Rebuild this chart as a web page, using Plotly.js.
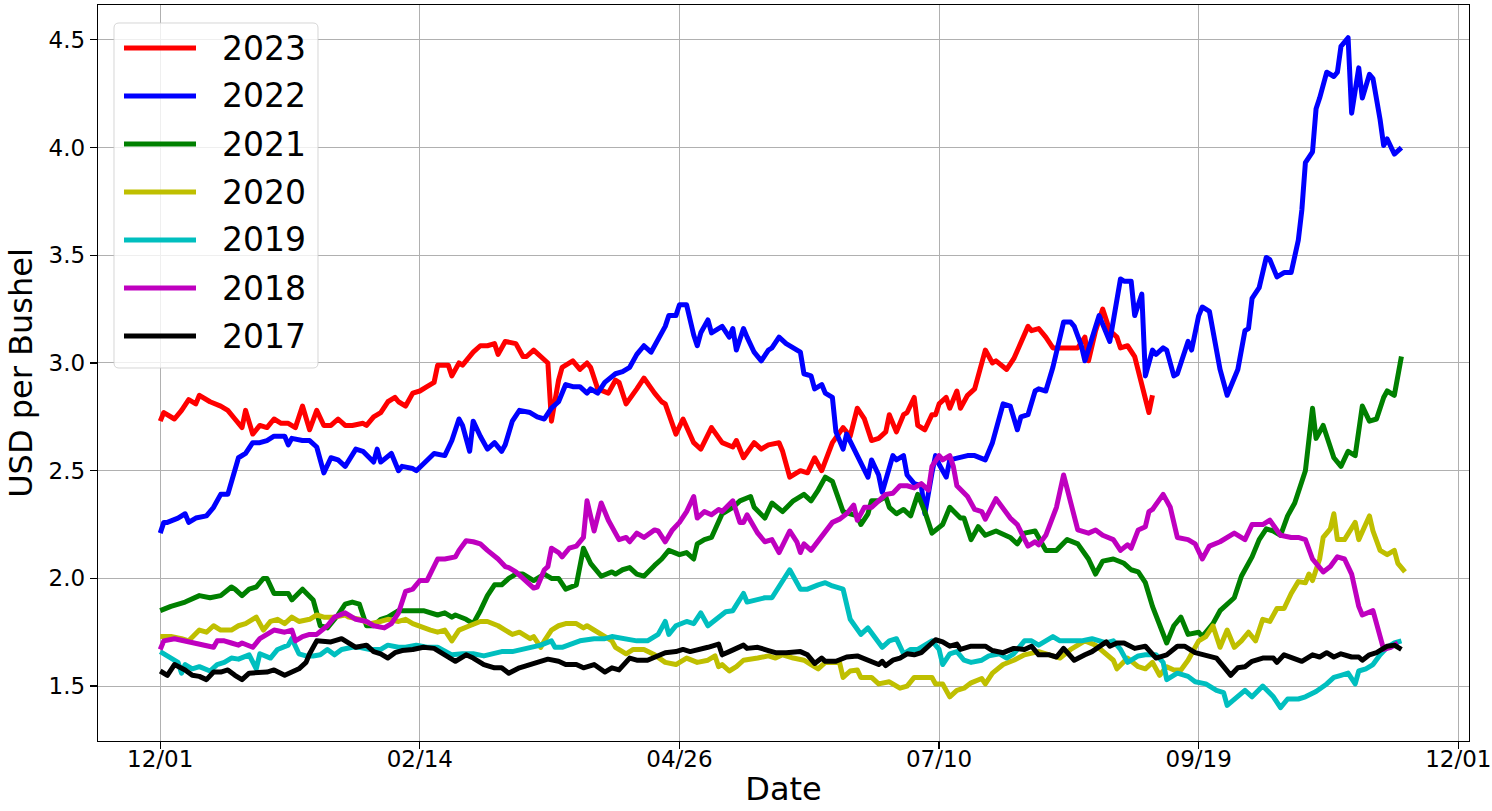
<!DOCTYPE html>
<html>
<head>
<meta charset="utf-8">
<script src="https://cdn.plot.ly/plotly-3.0.1.min.js"></script>
<style>
html,body{margin:0;padding:0;background:#fff;}
#chart{width:1492px;height:811px;}
.scatterlayer path.js-line{stroke-linejoin:round;}
</style>
</head>
<body>
<div id="chart"></div>
<script>
// ---------- data ----------
const years = ['2023','2022','2021','2020','2019','2018','2017'];
const colors = ['#ff0000','#0000ff','#008000','#bfbf00','#00bfbf','#bf00bf','#000000'];
const tickDays = [0,73,146,219,292,365];
const tickLabels = ['12/01','02/14','04/26','07/10','09/19','12/01'];
const priceTicks = [1.5,2.0,2.5,3.0,3.5,4.0,4.5];

// [day since 12/01, USD per bushel]
const y2023 = [[0,2.73],[1,2.77],[4,2.74],[6,2.78],[8,2.83],[10,2.81],[11,2.85],[14,2.82],[17,2.80],[19,2.78],
[21,2.74],[23,2.70],[24,2.78],[26,2.67],[28,2.71],[30,2.70],[32,2.74],[34,2.72],[36,2.72],[38,2.70],
[40,2.80],[42,2.69],[44,2.78],[46,2.71],[48,2.71],[50,2.74],[52,2.71],[54,2.71],[57,2.72],[58,2.71],
[60,2.75],[62,2.77],[64,2.82],[66,2.84],[67,2.82],[69,2.80],[71,2.86],[73,2.87],[75,2.89],[77,2.91],
[78,2.99],[81,2.99],[82,2.94],[84,3.00],[85,2.99],[88,3.05],[90,3.08],[92,3.08],[94,3.09],[95,3.04],
[97,3.10],[100,3.09],[102,3.03],[103,3.03],[105,3.06],[107,3.03],[109,3.00],[110,2.73],[112,2.92],[113,2.98],
[116,3.01],[118,2.97],[120,3.00],[121,2.98],[123,2.88],[126,2.86],[128,2.92],[129,2.91],[131,2.81],[134,2.88],
[136,2.93],[139,2.86],[141,2.82],[142,2.81],[145,2.67],[147,2.74],[150,2.63],[152,2.60],[155,2.70],[158,2.63],
[161,2.61],[162,2.64],[164,2.56],[167,2.63],[169,2.60],[171,2.62],[174,2.63],[175,2.59],[177,2.47],[180,2.50],
[182,2.49],[184,2.56],[186,2.50],[189,2.63],[192,2.70],[194,2.66],[196,2.79],[198,2.74],[200,2.64],[202,2.65],
[204,2.68],[205,2.76],[207,2.68],[209,2.76],[210,2.77],[212,2.84],[213,2.71],[215,2.69],[217,2.76],[218,2.76],
[219,2.81],[221,2.84],[222,2.79],[224,2.87],[225,2.79],[227,2.85],[229,2.88],[232,3.06],[234,3.00],[235,3.01],
[237,2.98],[238,2.97],[240,3.02],[242,3.09],[244,3.17],[245,3.15],[247,3.16],[249,3.12],[251,3.07],[254,3.07],
[256,3.07],[258,3.07],[260,3.12],[261,3.01],[263,3.15],[265,3.25],[267,3.15],[269,3.12],[270,3.07],[272,3.08],
[274,3.03],[276,2.91],[278,2.77],[279,2.85]];

const y2022 = [[0,2.21],[1,2.26],[2,2.26],[5,2.28],[7,2.30],[8,2.26],[10,2.28],[13,2.29],[15,2.33],[17,2.39],
[19,2.39],[21,2.50],[22,2.56],[24,2.58],[26,2.63],[28,2.63],[30,2.64],[32,2.66],[35,2.66],[36,2.62],
[37,2.65],[40,2.64],[42,2.64],[44,2.61],[46,2.49],[48,2.56],[50,2.55],[52,2.52],[55,2.60],[57,2.59],
[60,2.54],[61,2.60],[62,2.54],[65,2.58],[67,2.50],[68,2.52],[71,2.51],[72,2.50],[75,2.55],[77,2.58],
[80,2.57],[82,2.64],[84,2.74],[85,2.71],[87,2.59],[88,2.73],[90,2.66],[92,2.60],[94,2.63],[96,2.59],
[97,2.62],[99,2.73],[101,2.78],[104,2.77],[106,2.75],[108,2.74],[110,2.79],[112,2.82],[114,2.90],[116,2.89],
[118,2.89],[120,2.86],[121,2.88],[123,2.86],[125,2.91],[128,2.95],[130,2.96],[132,2.98],[134,3.04],[136,3.08],
[138,3.05],[140,3.11],[142,3.17],[143,3.22],[145,3.22],[146,3.27],[148,3.27],[150,3.13],[151,3.08],[152,3.14],
[154,3.20],[155,3.14],[157,3.16],[158,3.17],[160,3.12],[161,3.16],[162,3.06],[164,3.16],[165,3.12],[167,3.05],
[169,3.01],[171,3.06],[172,3.07],[174,3.12],[176,3.09],[178,3.07],[180,3.05],[181,2.95],[183,2.94],[184,2.88],
[186,2.90],[187,2.86],[189,2.84],[190,2.68],[192,2.60],[193,2.67],[195,2.60],[197,2.54],[199,2.47],[200,2.55],
[202,2.48],[203,2.40],[206,2.57],[207,2.55],[209,2.57],[210,2.48],[212,2.44],[214,2.43],[215,2.30],[217,2.49],
[218,2.57],[219,2.53],[221,2.47],[222,2.55],[224,2.56],[227,2.57],[229,2.57],[232,2.55],[234,2.63],[237,2.81],
[239,2.80],[241,2.69],[242,2.75],[244,2.76],[246,2.87],[247,2.88],[249,2.87],[251,2.98],[254,3.19],[256,3.19],
[257,3.17],[259,3.08],[260,3.01],[262,3.12],[264,3.22],[267,3.10],[268,3.20],[270,3.39],[271,3.38],[273,3.38],
[274,3.22],[276,3.32],[277,2.94],[279,3.06],[280,3.04],[282,3.07],[283,3.06],[285,2.94],[286,2.95],[289,3.10],
[290,3.06],[292,3.22],[293,3.26],[295,3.24],[298,2.97],[300,2.85],[303,2.97],[305,3.15],[306,3.16],[307,3.30],
[309,3.35],[311,3.49],[312,3.48],[314,3.40],[316,3.42],[318,3.42],[320,3.57],[321,3.71],[322,3.93],[324,3.98],
[325,4.18],[326,4.23],[328,4.35],[330,4.33],[331,4.35],[332,4.47],[334,4.51],[335,4.16],[337,4.37],[338,4.23],
[340,4.34],[341,4.32],[343,4.13],[344,4.01],[345,4.04],[347,3.97],[349,4.00]];

const y2021 = [[0,1.85],[3,1.87],[7,1.89],[11,1.92],[14,1.91],[17,1.92],[20,1.96],[21,1.95],[23,1.92],[25,1.95],
[27,1.96],[29,2.00],[30,2.00],[32,1.93],[34,1.93],[36,1.93],[37,1.90],[40,1.95],[43,1.90],[44,1.84],
[45,1.78],[47,1.77],[50,1.83],[52,1.88],[54,1.89],[56,1.88],[58,1.78],[60,1.78],[62,1.81],[64,1.82],
[67,1.85],[71,1.85],[74,1.85],[78,1.83],[80,1.84],[82,1.82],[83,1.83],[86,1.81],[88,1.79],[90,1.85],
[92,1.92],[94,1.97],[96,1.97],[98,2.00],[100,2.02],[102,2.02],[104,2.00],[105,1.99],[108,2.02],[110,2.00],
[112,2.00],[114,1.95],[117,1.97],[119,2.14],[121,2.07],[124,2.01],[127,2.03],[128,2.02],[130,2.04],[132,2.05],
[134,2.02],[136,2.01],[139,2.06],[141,2.09],[143,2.13],[146,2.11],[148,2.12],[150,2.09],[151,2.16],[153,2.18],
[155,2.19],[157,2.26],[158,2.30],[161,2.33],[163,2.36],[166,2.38],[167,2.33],[170,2.28],[172,2.35],[175,2.31],
[178,2.36],[181,2.39],[183,2.36],[185,2.41],[187,2.47],[189,2.45],[190,2.40],[192,2.31],[194,2.30],[196,2.29],
[197,2.25],[199,2.30],[200,2.36],[202,2.36],[204,2.38],[205,2.33],[207,2.30],[209,2.32],[211,2.29],[213,2.39],
[215,2.31],[217,2.21],[220,2.25],[222,2.33],[225,2.28],[226,2.28],[228,2.18],[230,2.24],[232,2.20],[235,2.22],
[239,2.19],[241,2.16],[243,2.21],[246,2.22],[249,2.13],[252,2.13],[255,2.18],[258,2.16],[261,2.09],[263,2.02],
[265,2.08],[268,2.09],[271,2.07],[273,2.04],[275,2.03],[277,1.98],[279,1.87],[281,1.78],[283,1.70],[285,1.78],
[287,1.82],[289,1.74],[292,1.75],[293,1.73],[296,1.79],[298,1.85],[302,1.91],[304,2.01],[307,2.10],[309,2.18],
[311,2.23],[313,2.22],[315,2.20],[317,2.29],[319,2.35],[322,2.50],[323,2.63],[324,2.79],[325,2.65],[327,2.71],
[328,2.66],[330,2.56],[332,2.52],[334,2.59],[336,2.57],[338,2.80],[340,2.73],[342,2.74],[344,2.84],[345,2.87],
[347,2.85],[349,3.03]];

const y2020 = [[0,1.73],[3,1.73],[6,1.72],[8,1.71],[11,1.76],[13,1.75],[15,1.78],[17,1.76],[20,1.76],[22,1.78],
[24,1.79],[27,1.82],[29,1.76],[31,1.80],[33,1.81],[35,1.79],[37,1.82],[39,1.80],[42,1.81],[44,1.83],
[46,1.82],[49,1.82],[52,1.83],[53,1.82],[56,1.81],[59,1.79],[62,1.80],[64,1.81],[67,1.80],[69,1.81],
[71,1.79],[74,1.77],[76,1.76],[78,1.75],[80,1.76],[82,1.71],[84,1.76],[87,1.78],[90,1.80],[92,1.80],
[95,1.78],[97,1.76],[99,1.74],[101,1.75],[104,1.72],[105,1.73],[107,1.68],[108,1.71],[110,1.76],[112,1.78],
[114,1.79],[117,1.79],[119,1.77],[120,1.78],[123,1.75],[124,1.745],[127,1.71],[128,1.68],[131,1.65],[133,1.67],
[136,1.67],[139,1.645],[142,1.61],[145,1.60],[148,1.63],[151,1.61],[154,1.62],[156,1.64],[157,1.59],[158,1.60],
[160,1.57],[162,1.59],[164,1.62],[168,1.63],[171,1.64],[173,1.63],[175,1.645],[178,1.63],[181,1.62],[183,1.60],
[185,1.58],[187,1.61],[189,1.61],[191,1.61],[192,1.54],[194,1.57],[196,1.575],[197,1.54],[200,1.54],[202,1.51],
[205,1.52],[208,1.49],[210,1.50],[212,1.54],[215,1.54],[217,1.54],[218,1.51],[220,1.51],[222,1.45],[224,1.48],
[226,1.49],[228,1.515],[231,1.535],[232,1.51],[234,1.56],[237,1.60],[240,1.62],[243,1.645],[247,1.66],[250,1.645],
[253,1.63],[256,1.67],[260,1.71],[263,1.69],[266,1.65],[268,1.62],[269,1.58],[272,1.63],[275,1.59],[277,1.58],
[279,1.61],[281,1.55],[283,1.59],[285,1.575],[287,1.575],[289,1.62],[291,1.68],[292,1.71],[294,1.73],[296,1.78],
[298,1.68],[300,1.76],[302,1.68],[304,1.71],[306,1.75],[308,1.71],[310,1.81],[312,1.80],[314,1.86],[316,1.86],
[318,1.93],[320,1.985],[322,1.98],[323,2.02],[324,1.99],[326,2.09],[327,2.19],[329,2.23],[330,2.30],[331,2.18],
[333,2.18],[334,2.21],[336,2.26],[337,2.18],[340,2.29],[341,2.22],[343,2.13],[345,2.11],[347,2.13],[348,2.07],
[350,2.03]];

const y2019 = [[0,1.66],[2,1.64],[5,1.61],[6,1.56],[7,1.60],[9,1.58],[11,1.59],[14,1.57],[16,1.60],[18,1.61],
[20,1.63],[22,1.625],[25,1.645],[27,1.58],[28,1.65],[31,1.63],[33,1.67],[36,1.69],[37,1.72],[39,1.65],
[41,1.64],[43,1.64],[45,1.645],[47,1.67],[49,1.645],[51,1.67],[54,1.68],[56,1.68],[59,1.67],[62,1.67],
[64,1.69],[67,1.68],[69,1.68],[72,1.69],[75,1.68],[78,1.68],[80,1.66],[82,1.645],[85,1.65],[88,1.65],
[91,1.64],[94,1.65],[96,1.66],[99,1.66],[102,1.67],[105,1.68],[107,1.69],[110,1.71],[111,1.68],[113,1.68],
[115,1.69],[118,1.71],[122,1.72],[125,1.72],[127,1.73],[131,1.72],[134,1.71],[137,1.71],[140,1.74],[142,1.80],
[143,1.74],[145,1.78],[148,1.80],[150,1.79],[152,1.84],[154,1.78],[157,1.815],[159,1.845],[161,1.85],[164,1.93],
[165,1.89],[168,1.90],[170,1.91],[172,1.91],[174,1.96],[177,2.04],[180,1.95],[182,1.95],[185,1.97],[187,1.98],
[189,1.965],[192,1.95],[194,1.81],[197,1.74],[199,1.77],[201,1.72],[203,1.68],[205,1.71],[207,1.72],[209,1.65],
[211,1.67],[213,1.67],[216,1.70],[217,1.71],[219,1.67],[220,1.60],[222,1.65],[224,1.66],[226,1.62],[228,1.61],
[231,1.62],[233,1.64],[236,1.65],[238,1.63],[240,1.65],[243,1.71],[245,1.71],[247,1.69],[249,1.71],[251,1.73],
[253,1.71],[256,1.71],[259,1.71],[262,1.72],[264,1.71],[266,1.70],[268,1.71],[270,1.67],[272,1.61],[275,1.64],
[277,1.645],[280,1.645],[282,1.61],[283,1.53],[286,1.56],[289,1.545],[291,1.52],[294,1.51],[297,1.48],[299,1.47],
[300,1.41],[303,1.45],[305,1.48],[307,1.45],[310,1.50],[313,1.45],[315,1.40],[317,1.44],[320,1.44],[322,1.45],
[325,1.475],[328,1.51],[330,1.54],[332,1.55],[334,1.56],[336,1.51],[337,1.57],[339,1.58],[341,1.60],[343,1.645],
[345,1.68],[347,1.70],[349,1.71]];

const y2018 = [[0,1.67],[1,1.71],[4,1.72],[7,1.71],[9,1.70],[12,1.69],[15,1.68],[16,1.71],[18,1.71],[20,1.70],
[22,1.69],[23,1.70],[26,1.68],[28,1.72],[30,1.74],[32,1.76],[35,1.75],[37,1.76],[38,1.71],[40,1.73],
[42,1.74],[44,1.74],[47,1.78],[49,1.82],[52,1.84],[53,1.83],[55,1.81],[58,1.80],[60,1.78],[63,1.77],
[65,1.79],[67,1.84],[69,1.94],[71,1.95],[73,1.99],[75,1.99],[77,2.05],[78,2.09],[80,2.09],[83,2.10],
[84,2.13],[86,2.175],[88,2.17],[90,2.16],[92,2.13],[95,2.09],[97,2.055],[98,2.05],[100,2.03],[103,1.985],
[105,1.955],[106,1.96],[108,2.04],[109,2.055],[110,2.14],[112,2.12],[113,2.10],[115,2.14],[117,2.15],[119,2.19],
[120,2.36],[122,2.22],[124,2.35],[126,2.27],[129,2.18],[131,2.19],[132,2.17],[134,2.21],[136,2.19],[139,2.225],
[140,2.22],[142,2.17],[144,2.225],[146,2.26],[148,2.31],[150,2.38],[151,2.28],[153,2.31],[155,2.295],[157,2.32],
[158,2.31],[161,2.36],[163,2.26],[164,2.26],[165,2.295],[168,2.21],[170,2.17],[172,2.18],[174,2.12],[177,2.22],
[179,2.17],[180,2.12],[181,2.16],[183,2.13],[186,2.20],[187,2.22],[189,2.26],[191,2.275],[193,2.30],[195,2.34],
[196,2.27],[198,2.33],[200,2.33],[202,2.36],[204,2.39],[206,2.395],[208,2.43],[210,2.43],[212,2.42],[214,2.44],
[216,2.41],[217,2.52],[219,2.57],[220,2.55],[222,2.57],[223,2.52],[224,2.43],[227,2.38],[229,2.32],[231,2.31],
[232,2.275],[235,2.37],[237,2.32],[239,2.28],[241,2.25],[244,2.15],[246,2.17],[247,2.156],[249,2.20],[252,2.33],
[254,2.48],[256,2.36],[258,2.225],[261,2.21],[263,2.225],[265,2.20],[268,2.18],[270,2.13],[272,2.156],[273,2.14],
[275,2.225],[277,2.24],[278,2.31],[279,2.32],[282,2.39],[284,2.33],[286,2.19],[289,2.18],[291,2.16],[293,2.09],
[295,2.15],[298,2.17],[302,2.21],[305,2.18],[307,2.25],[310,2.25],[312,2.27],[315,2.20],[318,2.19],[320,2.19],
[322,2.18],[324,2.09],[327,2.03],[329,2.055],[331,2.10],[333,2.09],[335,2.02],[337,1.87],[338,1.83],[341,1.85],
[342,1.79],[344,1.67],[346,1.68],[348,1.70]];

const y2017 = [[0,1.57],[2,1.55],[4,1.60],[7,1.575],[9,1.55],[11,1.545],[13,1.53],[15,1.565],[17,1.565],[19,1.575],
[21,1.55],[23,1.53],[25,1.56],[27,1.56],[30,1.565],[32,1.575],[35,1.55],[37,1.565],[39,1.58],[41,1.61],
[42,1.65],[44,1.71],[46,1.71],[48,1.705],[51,1.72],[53,1.70],[55,1.68],[58,1.69],[60,1.66],[62,1.65],
[64,1.63],[66,1.655],[68,1.665],[71,1.67],[74,1.68],[77,1.675],[79,1.655],[82,1.63],[83,1.615],[86,1.645],
[88,1.63],[91,1.60],[94,1.585],[96,1.585],[98,1.56],[101,1.585],[104,1.60],[107,1.62],[109,1.625],[112,1.615],
[114,1.60],[117,1.60],[119,1.585],[122,1.60],[125,1.565],[127,1.585],[129,1.575],[132,1.63],[134,1.62],[137,1.62],
[140,1.64],[142,1.655],[145,1.66],[147,1.67],[149,1.66],[152,1.67],[154,1.68],[157,1.695],[158,1.645],[160,1.66],
[162,1.675],[164,1.69],[165,1.675],[168,1.68],[171,1.665],[173,1.655],[176,1.655],[180,1.66],[182,1.645],[184,1.605],
[186,1.63],[187,1.615],[190,1.615],[193,1.635],[196,1.64],[199,1.62],[202,1.60],[203,1.615],[204,1.595],[206,1.62],
[208,1.63],[210,1.65],[212,1.645],[214,1.655],[216,1.685],[218,1.715],[220,1.705],[222,1.685],[224,1.695],[225,1.67],
[228,1.685],[232,1.685],[234,1.665],[237,1.655],[240,1.675],[243,1.67],[245,1.685],[247,1.645],[250,1.645],[252,1.635],
[254,1.675],[257,1.62],[260,1.645],[262,1.66],[266,1.705],[267,1.685],[269,1.70],[271,1.70],[274,1.675],[277,1.685],
[280,1.63],[283,1.645],[286,1.685],[288,1.685],[291,1.655],[293,1.645],[297,1.63],[299,1.59],[301,1.55],[303,1.585],
[305,1.59],[307,1.615],[310,1.63],[313,1.63],[314,1.61],[316,1.645],[319,1.625],[321,1.615],[324,1.645],[326,1.635],
[328,1.655],[330,1.635],[332,1.65],[335,1.635],[337,1.635],[338,1.62],[340,1.645],[342,1.655],[345,1.685],[347,1.69],
[349,1.67]];

const seriesData = [y2023, y2022, y2021, y2020, y2019, y2018, y2017];

// ---------- traces ----------
const LINE_W = 5;
const traces = seriesData.map((s, i) => ({
  type: 'scatter', mode: 'lines', name: years[i],
  x: s.map(p => p[0]), y: s.map(p => p[1]),
  line: {color: colors[i], width: LINE_W},
  showlegend: false, hoverinfo: 'x+y+name'
}));

// ---------- geometry (pixels) ----------
const FIG_W = 1492, FIG_H = 811;
const PL = 98, PR = 1469, PT = 5, PB = 741;
const px = x => (x - PL) / (PR - PL);
const py = y => (PB - y) / (PB - PT);

// legend drawn manually (matplotlib style)
const LEG = {x0: 114, x1: 318, y0: 23, y1: 368, r: 5, row0: 48, rowStep: 48, lineX0: 124, lineX1: 196, textX: 220, fontSize: 33};
const shapes = [];
const annotations = [];
{
  const a = px(LEG.x0), b = px(LEG.x1), top = py(LEG.y0), bot = py(LEG.y1);
  const rx = LEG.r / (PR - PL), ry = LEG.r / (PB - PT);
  const path = `M ${a+rx},${top} L ${b-rx},${top} Q ${b},${top} ${b},${top-ry} L ${b},${bot+ry} Q ${b},${bot} ${b-rx},${bot} L ${a+rx},${bot} Q ${a},${bot} ${a},${bot+ry} L ${a},${top-ry} Q ${a},${top} ${a+rx},${top} Z`;
  shapes.push({type: 'path', xref: 'paper', yref: 'paper', path: path, layer: 'above',
    fillcolor: 'rgba(255,255,255,0.8)', line: {color: 'rgba(204,204,204,0.8)', width: 1}});
  years.forEach((yr, i) => {
    const yy = py(LEG.row0 + i * LEG.rowStep);
    shapes.push({type: 'line', xref: 'paper', yref: 'paper', layer: 'above',
      x0: px(LEG.lineX0), x1: px(LEG.lineX1), y0: yy, y1: yy,
      line: {color: colors[i], width: LINE_W}});
    annotations.push({xref: 'paper', yref: 'paper', x: px(LEG.textX), y: yy,
      xanchor: 'left', yanchor: 'middle', showarrow: false, text: yr,
      font: {family: 'DejaVu Sans', size: LEG.fontSize, color: '#000'}});
  });
}

const TICK_FONT = {family: 'DejaVu Sans', size: 23, color: '#000'};
const TITLE_FONT = {family: 'DejaVu Sans', size: 32, color: '#000'};

const layout = {
  width: FIG_W, height: FIG_H,
  margin: {l: PL, r: FIG_W - PR, t: PT, b: FIG_H - PB, pad: 0},
  paper_bgcolor: '#ffffff', plot_bgcolor: '#ffffff',
  font: {family: 'DejaVu Sans', size: 22, color: '#000'},
  showlegend: false,
  xaxis: {
    type: 'linear', range: [-17.5, 368], autorange: false,
    tickmode: 'array', tickvals: tickDays, ticktext: tickLabels,
    ticks: 'outside', ticklen: 7, tickwidth: 1.2, tickcolor: '#000',
    ticklabelstandoff: -10,
    tickfont: TICK_FONT,
    showgrid: true, gridcolor: '#b0b0b0', gridwidth: 1,
    showline: true, linecolor: '#000', linewidth: 1.2, mirror: true,
    zeroline: false,
    title: {text: 'Date', font: TITLE_FONT, standoff: 6}
  },
  yaxis: {
    type: 'linear', range: [1.245, 4.662], autorange: false,
    tickmode: 'array', tickvals: priceTicks, ticktext: priceTicks.map(v => v.toFixed(1)),
    ticks: 'outside', ticklen: 7, tickwidth: 1.2, tickcolor: '#000',
    tickfont: TICK_FONT,
    showgrid: true, gridcolor: '#b0b0b0', gridwidth: 1,
    showline: true, linecolor: '#000', linewidth: 1.2, mirror: true,
    zeroline: false,
    title: {text: 'USD per Bushel', font: TITLE_FONT, standoff: 6}
  },
  shapes: shapes,
  annotations: annotations
};

Plotly.newPlot('chart', traces, layout, {displayModeBar: false, staticPlot: true});
</script>
</body>
</html>
